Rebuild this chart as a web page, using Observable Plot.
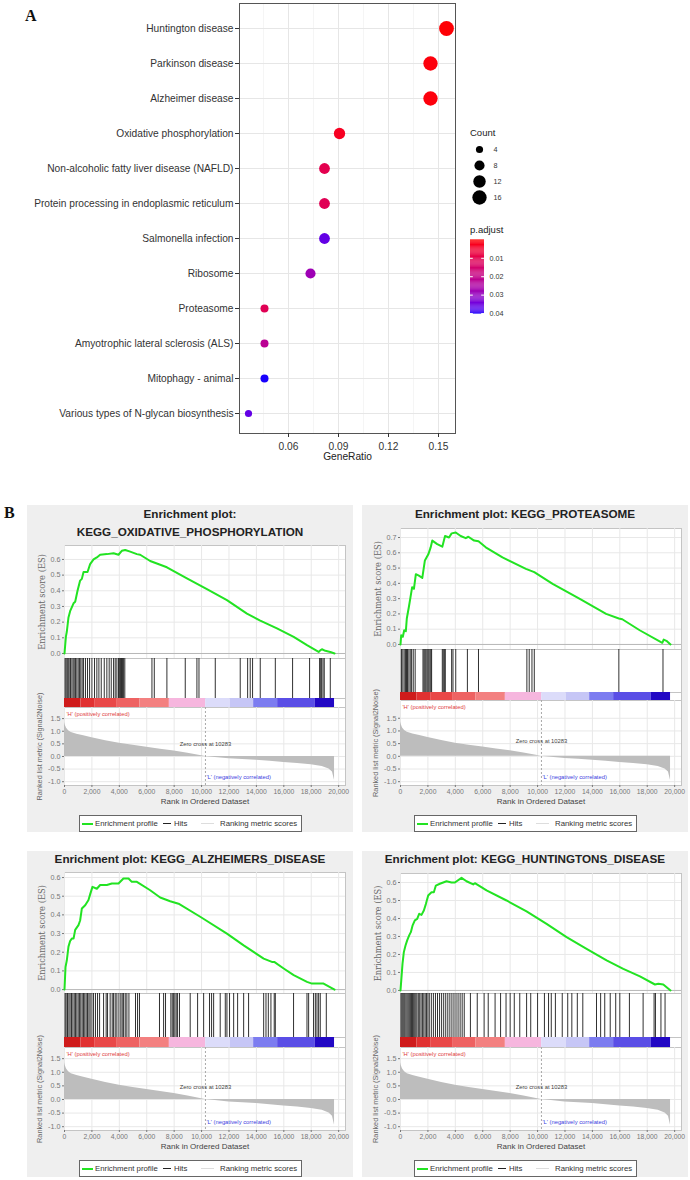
<!DOCTYPE html>
<html><head><meta charset="utf-8">
<script src="https://cdn.jsdelivr.net/npm/d3@7"></script>
<script src="https://cdn.jsdelivr.net/npm/@observablehq/plot@0.6"></script>
<style>
html,body{margin:0;padding:0;background:#fff;}
#root{position:relative;width:690px;height:1180px;overflow:hidden;font-family:"Liberation Sans",Arial,sans-serif;}
#root svg{overflow:visible;position:absolute;}
.lbl{position:absolute;white-space:nowrap;line-height:1;}
.letter{position:absolute;font-family:"Liberation Serif","Times New Roman",serif;font-weight:bold;font-size:16px;color:#111;line-height:1;}
.gbox{position:absolute;width:326px;background:#efefef;}
.gtitle{position:absolute;left:0;width:100%;text-align:center;font-weight:bold;font-size:11.7px;color:#222;line-height:1;}
.glegend{position:absolute;left:52px;width:221px;height:15px;border:1px solid #666;background:#fff;font-size:7.8px;color:#333;}
.glegend .ln{position:absolute;}
</style></head>
<body><div id="root"></div>
<script>
// ---------- Panel A data ----------
const pathways = ["Huntington disease","Parkinson disease","Alzheimer disease","Oxidative phosphorylation","Non-alcoholic fatty liver disease (NAFLD)","Protein processing in endoplasmic reticulum","Salmonella infection","Ribosome","Proteasome","Amyotrophic lateral sclerosis (ALS)","Mitophagy - animal","Various types of N-glycan biosynthesis"];
const geneRatio = [0.1548,0.1452,0.1452,0.0906,0.0816,0.0816,0.0816,0.0732,0.0456,0.0456,0.0456,0.0360];
const geneCount = [17,16,16,10,9,9,9,8,5,5,5,4];
const pAdjust = [0.0003,0.0008,0.0008,0.003,0.010,0.011,0.036,0.028,0.011,0.022,0.040,0.036];
const ratioTicks = [0.06,0.09,0.12,0.15];
const ratioMinor = [0.045,0.075,0.105,0.135];
const countLegend = [4,8,12,16];
const pAdjustTicks = [0.01,0.02,0.03,0.04];

// ---------- Panel B data ----------
const rankTicks = [0,2000,4000,6000,8000,10000,12000,14000,16000,18000,20000];
const metricTicks = [-1.0,-0.5,0.0,0.5,1.0,1.5];
const zeroCross = 10283;
const rankedMetric = [[0,1.35],[50,1.25],[150,1.12],[300,1.02],[500,0.95],[900,0.88],[1400,0.82],[2000,0.74],[3000,0.62],[4000,0.52],[5000,0.44],[6000,0.37],[7000,0.29],[8000,0.22],[9000,0.13],[10000,0.03],[10283,0.0],[11000,-0.04],[12000,-0.09],[13000,-0.12],[14000,-0.15],[15000,-0.19],[16000,-0.24],[17000,-0.28],[18000,-0.33],[18800,-0.40],[19300,-0.50],[19550,-0.62],[19700,-0.95]];
const barEdges = [0,1200,2200,3800,5500,7650,10300,12100,13800,15550,18300,19700];
const barLevels = [1.0,0.7,0.5,0.35,0.2,0.05,-0.05,-0.12,-0.2,-0.3,-0.6];

const esOxphos = [[0,0],[100,0.106],[170,0.14],[290,0.23],[410,0.27],[660,0.32],[780,0.33],[950,0.40],[1140,0.465],[1265,0.476],[1390,0.52],[1680,0.52],[1870,0.57],[2120,0.60],[2360,0.613],[2600,0.63],[3090,0.634],[3580,0.64],[3940,0.63],[4180,0.655],[4430,0.66],[4790,0.65],[5280,0.634],[5520,0.63],[6250,0.59],[7470,0.55],[8930,0.48],[10390,0.41],[11850,0.34],[13310,0.254],[14280,0.21],[15500,0.16],[16720,0.106],[17690,0.053],[18540,0.01],[18660,0.02],[18780,0.027],[19030,0.017],[19390,0.01],[19700,0.0]];
const hitsOxphos = [50,120,200,270,340,440,540,630,710,800,900,1000,1100,1190,1290,1390,1530,1680,1830,2000,2190,2360,2510,2680,2900,3090,3260,3410,3580,3700,3820,3940,4020,4090,4160,4230,4310,4400,6380,6550,7470,8810,9660,9810,11000,12820,13360,13550,13720,14280,15380,16640,17880,18610,18690,18760,18860,18950,19390];

const esProteasome = [[0,0],[50,0.06],[170,0.05],[270,0.093],[390,0.087],[460,0.17],[610,0.245],[730,0.31],[850,0.375],[980,0.364],[1120,0.46],[1340,0.45],[1590,0.436],[1780,0.55],[2030,0.59],[2200,0.635],[2320,0.68],[2680,0.657],[3050,0.64],[3250,0.71],[3540,0.70],[3730,0.727],[4030,0.733],[4390,0.71],[4760,0.696],[4950,0.705],[5370,0.68],[5690,0.675],[6220,0.636],[7440,0.57],[9150,0.495],[9760,0.473],[11100,0.397],[13050,0.30],[15000,0.20],[15930,0.17],[16180,0.165],[17450,0.093],[19100,0.011],[19200,0.032],[19400,0.024],[19700,0.0]];
const hitsProteasome = [70,170,270,370,440,510,610,710,810,930,1070,1640,1710,1780,1850,1930,2000,2070,2150,2220,2270,3050,3120,3200,3270,3730,3830,4030,4880,5690,9220,9390,9590,9760,15930,19150];

const esAlzheimers = [[0,0],[73,0.12],[170,0.157],[290,0.23],[410,0.26],[535,0.273],[660,0.273],[780,0.32],[1020,0.345],[1140,0.37],[1265,0.434],[1510,0.452],[1750,0.48],[1870,0.51],[2040,0.55],[2360,0.54],[2600,0.56],[3090,0.56],[3455,0.568],[3940,0.568],[4300,0.595],[4670,0.595],[4910,0.577],[5280,0.577],[6250,0.532],[6980,0.493],[7710,0.473],[8320,0.46],[9900,0.39],[11850,0.30],[13070,0.237],[14530,0.166],[15130,0.148],[15300,0.148],[15990,0.113],[16720,0.077],[17690,0.041],[18050,0.032],[18900,0.032],[19700,0.0]];
const hitsAlzheimers = [50,120,220,320,410,510,610,710,800,900,1000,1100,1190,1290,1390,1480,1580,1680,1780,1870,2000,2120,2260,2410,2560,2850,3040,3140,3330,3480,3580,3700,3820,3970,4110,4210,4310,4430,4550,4700,5180,5330,5470,6930,7230,7370,7760,7860,7960,8050,8150,8250,8390,9170,9710,10150,10580,10730,10880,11360,11730,11850,12040,12340,12630,13070,13430,14530,14700,14870,15060,15300,15380,16710,17690,17810,18170,18300,18420,18540,18660,19100];

const esHuntingtons = [[0,0],[73,0.074],[146,0.148],[243,0.213],[365,0.25],[487,0.278],[633,0.306],[754,0.324],[876,0.36],[1046,0.39],[1217,0.398],[1362,0.426],[1533,0.42],[1703,0.444],[1849,0.48],[2020,0.528],[2263,0.546],[2433,0.546],[2579,0.583],[2871,0.593],[3358,0.607],[3723,0.60],[3966,0.60],[4452,0.626],[4817,0.607],[5304,0.589],[5426,0.596],[6277,0.556],[7737,0.50],[9197,0.44],[10657,0.37],[12116,0.296],[13576,0.231],[15036,0.167],[16253,0.12],[17469,0.078],[18564,0.033],[18808,0.037],[19172,0.033],[19700,0.0]];
const hitsHuntingtons = [40,110,180,250,320,400,480,560,640,720,800,880,960,1040,1120,1200,1300,1400,1500,1600,1700,1800,1900,2000,2100,2250,2400,2550,2700,2850,3000,3150,3300,3450,3600,3750,3900,4050,4200,4350,4500,4650,5100,5600,6100,6400,6900,7300,7700,8000,8300,8700,9200,9500,10000,10500,10800,11000,11300,11800,12200,12500,12900,13300,14300,14600,14900,15300,15700,16000,16700,17700,18500,18600,19000,19300];

// ---------- helpers ----------
const root = document.getElementById("root");
function place(el, x, y, parent) { el.style.position = "absolute"; el.style.left = x + "px"; el.style.top = y + "px"; (parent || root).appendChild(el); return el; }
function label(text, cls, x, y, css, parent) { const d = document.createElement("div"); d.className = cls; d.textContent = text; if (css) d.style.cssText = css; return place(d, x, y, parent); }
const f1 = d => d.toFixed(1);

// ---------- Panel A ----------
label("A", "letter", 25, 8);
const dotData = pathways.map((p, i) => ({pathway: p, ratio: geneRatio[i], count: geneCount[i], padj: pAdjust[i]}));
const colorA = {type: "linear", domain: [0, 0.0403], range: ["#ff0000", "#0000ff"], interpolate: "lab"};
const rA = {domain: [0, 17], range: [0, 7.4]};
const plotA = Plot.plot({
  width: 460, height: 470, marginLeft: 239, marginRight: 5, marginTop: 3, marginBottom: 37,
  style: {background: "transparent", overflow: "visible", fontFamily: "Liberation Sans, Arial, sans-serif", fontSize: "10.2px", color: "#333"},
  x: {domain: [0.0306, 0.1602]},
  y: {type: "point", domain: pathways, range: [24, 417], padding: 0},
  r: rA, color: colorA,
  marks: [
    Plot.gridX(ratioMinor, {stroke: "#f0f0f0", strokeOpacity: 1, strokeWidth: 0.7}),
    Plot.gridX(ratioTicks, {stroke: "#e6e6e6", strokeOpacity: 1, strokeWidth: 1}),
    Plot.gridY(pathways, {stroke: "#e6e6e6", strokeOpacity: 1, strokeWidth: 1}),
    Plot.frame({stroke: "#555"}),
    Plot.axisY({tickSize: 4, tickPadding: 2, label: null}),
    Plot.axisX(ratioTicks, {tickSize: 4, tickPadding: 5, tickFormat: d3.format(".2f"), label: null}),
    Plot.text(["GeneRatio"], {frameAnchor: "bottom", dy: 26, fill: "#222"}),
    Plot.dot(dotData, {x: "ratio", y: "pathway", r: "count", fill: "padj"})
  ]
});
place(plotA, 0, 0);

// Count legend
label("Count", "lbl", 470, 128, "font-size:9.5px;color:#222");
const countPlot = Plot.plot({
  width: 60, height: 66, marginLeft: 0, marginRight: 0, marginTop: 0, marginBottom: 0,
  style: {background: "transparent", overflow: "visible", fontFamily: "Liberation Sans, Arial, sans-serif", color: "#333"},
  x: {axis: null}, y: {type: "point", domain: countLegend, range: [9, 57], padding: 0, axis: null}, r: rA,
  marks: [
    Plot.dot(countLegend, {y: d => d, r: d => d, frameAnchor: "left", dx: 9, fill: "#000"}),
    Plot.text(countLegend, {y: d => d, text: d => String(d), frameAnchor: "left", dx: 23, textAnchor: "start", fontSize: 7.2})
  ]
});
place(countPlot, 470, 140);

// p.adjust legend
label("p.adjust", "lbl", 470, 225, "font-size:9.5px;color:#222");
const steps = d3.range(0, 0.0403, 0.0005);
const padjPlot = Plot.plot({
  width: 60, height: 82, marginLeft: 0, marginRight: 46, marginTop: 0, marginBottom: 0,
  style: {background: "transparent", overflow: "visible", fontFamily: "Liberation Sans, Arial, sans-serif", color: "#333"},
  x: {domain: [0, 1], axis: null}, y: {domain: [0, 0.0403], range: [3.4, 77.6], axis: null}, color: colorA,
  marks: [
    Plot.rect(steps, {y1: d => d, y2: d => Math.min(d + 0.00055, 0.0403), x1: 0, x2: 1, fill: d => d}),
    Plot.ruleY(pAdjustTicks, {x1: 0, x2: 0.2, stroke: "#fff"}),
    Plot.ruleY(pAdjustTicks, {x1: 0.8, x2: 1, stroke: "#fff"}),
    Plot.text(pAdjustTicks, {y: d => d, text: d => d.toFixed(2), frameAnchor: "right", dx: 5, textAnchor: "start", fontSize: 7.2})
  ]
});
place(padjPlot, 470, 236);

// ---------- Panel B ----------
label("B", "letter", 4, 505);
const barSegments = barLevels.map((v, i) => ({x1: barEdges[i], x2: barEdges[i + 1], level: v}));
const barColors = ["#cf1b1b","#e13131","#e94848","#ee6262","#f38080","#f6b6de","#dcdcfa","#c6c6f6","#7c7cf0","#5a4ee6","#2208c4"];

function gseaPanel(cfg) {
  const box = document.createElement("div");
  box.className = "gbox"; box.style.height = cfg.h + "px";
  place(box, cfg.left, cfg.top);
  cfg.title.forEach((t, i) => label(t, "gtitle", 0, cfg.titleY[i] - 6, "", box));
  const W = 325, ml = cfg.ml, mr = W - ml - 281;
  const st = {background: "transparent", overflow: "visible", fontFamily: "Liberation Sans, Arial, sans-serif", color: "#777"};
  const xs = {domain: [0, 20500], axis: null};
  const es = Plot.plot({
    width: W, height: cfg.esB - cfg.esT, marginLeft: ml, marginRight: mr, marginTop: 0, marginBottom: 0, style: st,
    x: xs, y: {domain: cfg.esDomain},
    marks: [
      Plot.frame({fill: "#fff", stroke: "#c4c4c4"}),
      Plot.gridX(rankTicks, {stroke: "#e8e8e8", strokeOpacity: 1}),
      Plot.gridY(cfg.esTicks, {stroke: "#e8e8e8", strokeOpacity: 1}),
      Plot.ruleY([0], {stroke: "#b8b8b8"}),
      Plot.axisY(cfg.esTicks, {tickSize: 2, tickPadding: 2, tickFormat: f1, fontSize: 7.2, label: null}),
      Plot.text(["Enrichment score (ES)"], {frameAnchor: "left", textAnchor: "middle", dx: -22, rotate: -90, fontFamily: "DejaVu Serif", fontSize: 8.3, fill: "#666"}),
      Plot.line(cfg.es, {x: d => d[0], y: d => d[1], stroke: "#22e322", strokeWidth: 2})
    ]
  });
  place(es, 0, cfg.esT, box);
  const hits = Plot.plot({
    width: W, height: cfg.hitsB - cfg.esB, marginLeft: ml, marginRight: mr, marginTop: 0, marginBottom: 0, style: st,
    x: xs, y: {domain: [0, 1], axis: null},
    marks: [
      Plot.frame({fill: "#fff", stroke: "#c4c4c4"}),
      Plot.ruleX(cfg.hits, {stroke: "#1a1a1a", strokeWidth: 0.9})
    ]
  });
  place(hits, 0, cfg.esB, box);
  const bar = Plot.plot({
    width: W, height: cfg.barB - cfg.hitsB, marginLeft: ml, marginRight: mr, marginTop: 0, marginBottom: 0, style: st,
    x: xs, color: {type: "ordinal", domain: barLevels, range: barColors},
    marks: [
      Plot.frame({fill: "#fff", stroke: "#c4c4c4"}),
      Plot.rect(barSegments, {x1: "x1", x2: "x2", fill: "level"})
    ]
  });
  place(bar, 0, cfg.hitsB, box);
  const metric = Plot.plot({
    width: W, height: cfg.mB - cfg.barB + 32, marginLeft: ml, marginRight: mr, marginTop: 0, marginBottom: 32, style: st,
    x: {domain: [0, 20500]}, y: {domain: cfg.mDomain},
    marks: [
      Plot.frame({fill: "#fff", stroke: "#c4c4c4"}),
      Plot.gridX(rankTicks, {stroke: "#e8e8e8", strokeOpacity: 1}),
      Plot.gridY(metricTicks, {stroke: "#e8e8e8", strokeOpacity: 1}),
      Plot.areaY(rankedMetric, {x: d => d[0], y: d => d[1], fill: "#bdbdbd"}),
      Plot.ruleX([zeroCross], {stroke: "#a8a8a8", strokeDasharray: "2,2"}),
      Plot.text(["'H' (positively correlated)"], {frameAnchor: "top-left", dx: 2, dy: 4, textAnchor: "start", fill: "#e03c3c", fontSize: 5.8}),
      Plot.text([zeroCross], {x: d => d, text: d => "Zero cross at " + d, frameAnchor: "middle", dy: -2, fill: "#444", fontSize: 5.8}),
      Plot.text([zeroCross], {x: d => d, text: () => "'L' (negatively correlated)", frameAnchor: "bottom", dy: -7, dx: 1, textAnchor: "start", fill: "#4040e0", fontSize: 5.8}),
      Plot.axisY(metricTicks, {tickSize: 2, tickPadding: 2, tickFormat: f1, fontSize: 7.2, label: null}),
      Plot.axisX(rankTicks, {tickSize: 2, tickPadding: 2, tickFormat: d3.format(","), fontSize: 6.8, label: null}),
      Plot.text(["Rank in Ordered Dataset"], {frameAnchor: "bottom", dy: 18, fontSize: 8, fill: "#444"}),
      Plot.text(["Ranked list metric (Signal2Noise)"], {frameAnchor: "left", textAnchor: "middle", dx: -25, rotate: -90, fontSize: 7.3, fill: "#666"})
    ]
  });
  place(metric, 0, cfg.barB, box);
  const lg = document.createElement("div");
  lg.className = "glegend";
  lg.innerHTML = '<span class="ln" style="left:2px;top:7px;width:11px;height:2px;background:#22e322"></span>' +
    '<span class="lbl" style="left:15px;top:4px">Enrichment profile</span>' +
    '<span class="ln" style="left:83px;top:7px;width:8px;height:1px;background:#222"></span>' +
    '<span class="lbl" style="left:94px;top:4px">Hits</span>' +
    '<span class="ln" style="left:121px;top:7px;width:13px;height:1px;background:#ddd"></span>' +
    '<span class="lbl" style="left:140px;top:4px">Ranking metric scores</span>';
  place(lg, 52, cfg.legT, box);
}

gseaPanel({left: 27, top: 505, h: 327, ml: 37, title: ["Enrichment plot:", "KEGG_OXIDATIVE_PHOSPHORYLATION"], titleY: [9, 27],
  esT: 40, esB: 153, hitsB: 193, barB: 202, mB: 280, esDomain: [-0.032, 0.689], esTicks: [0,0.1,0.2,0.3,0.4,0.5,0.6],
  mDomain: [-1.15, 1.94], legT: 310, es: esOxphos, hits: hitsOxphos});
gseaPanel({left: 362, top: 505, h: 327, ml: 38, title: ["Enrichment plot: KEGG_PROTEASOME"], titleY: [9],
  esT: 23, esB: 144, hitsB: 187, barB: 195, mB: 280, esDomain: [-0.033, 0.759], esTicks: [0,0.1,0.2,0.3,0.4,0.5,0.6,0.7],
  mDomain: [-1.15, 2.2], legT: 310, es: esProteasome, hits: hitsProteasome});
gseaPanel({left: 27, top: 851, h: 326, ml: 37, title: ["Enrichment plot: KEGG_ALZHEIMERS_DISEASE"], titleY: [8],
  esT: 21, esB: 142, hitsB: 186, barB: 196, mB: 279, esDomain: [-0.021, 0.627], esTicks: [0,0.1,0.2,0.3,0.4,0.5,0.6],
  mDomain: [-1.14, 1.91], legT: 309, es: esAlzheimers, hits: hitsAlzheimers});
gseaPanel({left: 362, top: 851, h: 326, ml: 38, title: ["Enrichment plot: KEGG_HUNTINGTONS_DISEASE"], titleY: [8],
  esT: 22, esB: 142, hitsB: 186, barB: 196, mB: 279, esDomain: [-0.017, 0.65], esTicks: [0,0.1,0.2,0.3,0.4,0.5,0.6],
  mDomain: [-1.14, 1.91], legT: 309, es: esHuntingtons, hits: hitsHuntingtons});
</script></body></html>
